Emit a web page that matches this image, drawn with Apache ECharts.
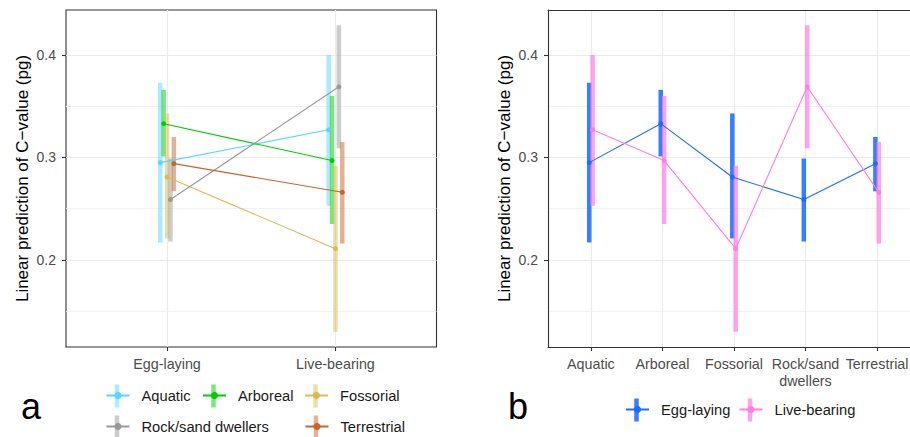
<!DOCTYPE html>
<html>
<head>
<meta charset="utf-8">
<script src="https://cdn.jsdelivr.net/npm/echarts@6/dist/echarts.min.js"></script>
<style>
html,body{margin:0;padding:0;background:#fff;overflow:hidden;}
#chart{width:910px;height:437px;}
</style>
</head>
<body>
<div id="chart"></div>
<script>
// ---- data ----
const habitats = ['Aquatic', 'Arboreal', 'Fossorial', 'Rock/sand dwellers', 'Terrestrial'];
const habitatAxisLabels = ['Aquatic', 'Arboreal', 'Fossorial', 'Rock/sand\ndwellers', 'Terrestrial'];
const modes = ['Egg-laying', 'Live-bearing'];
const eggMean  = [0.295, 0.333, 0.281, 0.259, 0.294];
const eggLow   = [0.217, 0.301, 0.221, 0.218, 0.267];
const eggHigh  = [0.373, 0.366, 0.343, 0.299, 0.320];
const liveMean = [0.327, 0.297, 0.211, 0.369, 0.266];
const liveLow  = [0.253, 0.235, 0.130, 0.309, 0.216];
const liveHigh = [0.400, 0.360, 0.292, 0.429, 0.315];
const yTicks = [0.2, 0.3, 0.4];
const yMinorTicks = [0.15, 0.25, 0.35];
const yTitle = 'Linear prediction of C\u2212value (pg)';

// ---- styles ----
const habitatColors = ['#55d7ff', '#00cd00', '#d9bb55', '#999999', '#c8632d'];
const modeColors = ['#1a6dff', '#ff7ee2'];
const modeBarOpacity = [0.88, 0.7];
const FONT = '"Liberation Sans", Arial, sans-serif';
const BORDER = { color: '#333', width: 1.1 };

const means = [eggMean, liveMean];
const lows = [eggLow, liveLow];
const highs = [eggHigh, liveHigh];

const allLow = Math.min(...eggLow, ...liveLow);
const allHigh = Math.max(...eggHigh, ...liveHigh);
const pad = (allHigh - allLow) * 0.05;
const yMin = allLow - pad, yMax = allHigh + pad;

function errorBarSeries(name, xi, yi, data, color, opacity) {
  return {
    type: 'custom', name: name, xAxisIndex: xi, yAxisIndex: yi, z: 1,
    silent: true, animation: false,
    encode: { x: 0, y: [1, 2] },
    data: data,
    renderItem: function (params, api) {
      const p1 = api.coord([api.value(0), api.value(1)]);
      const p2 = api.coord([api.value(0), api.value(2)]);
      return {
        type: 'line',
        shape: { x1: p1[0], y1: p1[1], x2: p2[0], y2: p2[1] },
        style: { stroke: color, lineWidth: 4.5, opacity: opacity }
      };
    }
  };
}

const series = [];
// panel a: x = mode, grouped by habitat
const dodgeA = 0.0202;
habitats.forEach((h, hi) => {
  const bars = [], pts = [];
  modes.forEach((m, mi) => {
    const x = mi + 1 + (hi - 2) * dodgeA;
    bars.push([x, lows[mi][hi], highs[mi][hi]]);
    pts.push([x, means[mi][hi]]);
  });
  series.push(errorBarSeries(h + ' CI', 0, 0, bars, habitatColors[hi], 0.5));
  series.push({
    type: 'line', name: h, xAxisIndex: 0, yAxisIndex: 0, z: 3, data: pts,
    symbol: 'circle', symbolSize: 5, showSymbol: true, animation: false,
    lineStyle: { color: habitatColors[hi], width: 1.1 },
    itemStyle: { color: habitatColors[hi] }
  });
});
// panel b: x = habitat, grouped by mode
const dodgeB = 0.0238;
modes.forEach((m, mi) => {
  const bars = [], pts = [];
  habitats.forEach((h, hi) => {
    const x = hi + 1 + (mi - 0.5) * 2 * dodgeB;
    bars.push([x, lows[mi][hi], highs[mi][hi]]);
    pts.push([x, means[mi][hi]]);
  });
  series.push(errorBarSeries(m + ' CI', 1, 2, bars, modeColors[mi], modeBarOpacity[mi]));
  series.push({
    type: 'line', name: m, xAxisIndex: 1, yAxisIndex: 2, z: 3, data: pts,
    symbol: 'circle', symbolSize: 5, showSymbol: true, animation: false,
    lineStyle: { color: modeColors[mi], width: 1.1 },
    itemStyle: { color: modeColors[mi] }
  });
});

function xAxisDef(gi, n, labels, showLine) {
  const vals = labels.map((_, i) => i + 1);
  return {
    type: 'value', gridIndex: gi, min: 0.4, max: n + 0.6, position: 'bottom',
    axisLine: { show: showLine, onZero: false, lineStyle: BORDER },
    axisTick: { show: true, customValues: vals, length: 4, lineStyle: BORDER },
    axisLabel: {
      customValues: vals, margin: 8, color: '#4d4d4d', fontSize: 14.3, fontFamily: FONT,
      lineHeight: 17, formatter: v => labels[Math.round(v) - 1],
      hideOverlap: false
    },
    splitLine: { show: true, lineStyle: { color: '#ebebeb', width: 1.2 } }
  };
}
function yAxisMajor(gi, showLine) {
  return {
    type: 'value', gridIndex: gi, min: yMin, max: yMax, position: 'left',
    name: yTitle, nameLocation: 'middle', nameGap: 35.5,
    nameTextStyle: { color: '#000', fontSize: 17, fontFamily: FONT },
    axisLine: { show: showLine, onZero: false, lineStyle: BORDER },
    axisTick: { show: true, customValues: yTicks, length: 4, lineStyle: BORDER },
    axisLabel: { customValues: yTicks, margin: 10, color: '#4d4d4d', fontSize: 14, fontFamily: FONT,
      formatter: v => v.toFixed(1) },
    splitLine: { show: true, lineStyle: { color: '#ebebeb', width: 1.2 } }
  };
}
function yAxisMinor(gi) {
  return {
    type: 'value', gridIndex: gi, min: yMin, max: yMax, position: 'left',
    axisLine: { show: false },
    axisTick: { show: false, customValues: yMinorTicks },
    axisLabel: { show: false, customValues: yMinorTicks },
    splitLine: { show: true, lineStyle: { color: '#efefef', width: 0.8 } }
  };
}

// legend (one component per key to get the column-aligned layout)
const legendText = { fontSize: 14.7, fontFamily: FONT, color: '#1a1a1a', padding: [0, 0, 0, 7] };
const legendA = [[117, 396], [213.5, 396], [315.5, 396], [117, 427], [316, 427]];
const legendB = [[636.5, 410], [750, 410]];
const legends = [];
const graphics = [];
habitats.forEach((h, hi) => {
  const [cx, cy] = legendA[hi];
  legends.push({ data: [h], left: cx - 11.5, top: cy - 8, padding: 0, itemWidth: 23, itemHeight: 9,
    textStyle: legendText, selectedMode: false });
  graphics.push({ type: 'rect', shape: { x: cx - 2.25, y: cy - 11.5, width: 4.5, height: 23 },
    style: { fill: habitatColors[hi], opacity: 0.5 }, z: -1 });
});
modes.forEach((m, mi) => {
  const [cx, cy] = legendB[mi];
  legends.push({ data: [m], left: cx - 11.5, top: cy - 8, padding: 0, itemWidth: 23, itemHeight: 9,
    textStyle: legendText, selectedMode: false });
  graphics.push({ type: 'rect', shape: { x: cx - 2.25, y: cy - 11.5, width: 4.5, height: 23 },
    style: { fill: modeColors[mi], opacity: modeBarOpacity[mi] }, z: -1 });
});
graphics.push({ type: 'text', left: 21, top: 388, style: { text: 'a', fontSize: 36, fontFamily: FONT, fill: '#000' } });
graphics.push({ type: 'text', left: 508, top: 388, style: { text: 'b', fontSize: 36, fontFamily: FONT, fill: '#000' } });

// top border of panel b (its right edge lies outside the picture)
const topBorderB = {
  type: 'value', gridIndex: 1, min: 0.4, max: 5.6, position: 'top',
  axisLine: { show: true, onZero: false, lineStyle: BORDER },
  axisTick: { show: false }, axisLabel: { show: false }, splitLine: { show: false }
};

const chart = echarts.init(document.getElementById('chart'), null, { renderer: 'svg' });
chart.setOption({
  animation: false,
  backgroundColor: '#fff',
  grid: [
    { left: 66, top: 10, width: 370.5, height: 337, show: true, borderColor: '#333', borderWidth: 1.1,
      backgroundColor: 'transparent', containLabel: false, outerBoundsMode: 'none' },
    { left: 548, top: 10, width: 372, height: 337, show: false,
      containLabel: false, outerBoundsMode: 'none' }
  ],
  xAxis: [xAxisDef(0, 2, modes, false), xAxisDef(1, 5, habitatAxisLabels, true), topBorderB],
  yAxis: [yAxisMajor(0, false), yAxisMinor(0), yAxisMajor(1, true), yAxisMinor(1)],
  legend: legends,
  graphic: graphics,
  series: series
});
</script>
</body>
</html>
